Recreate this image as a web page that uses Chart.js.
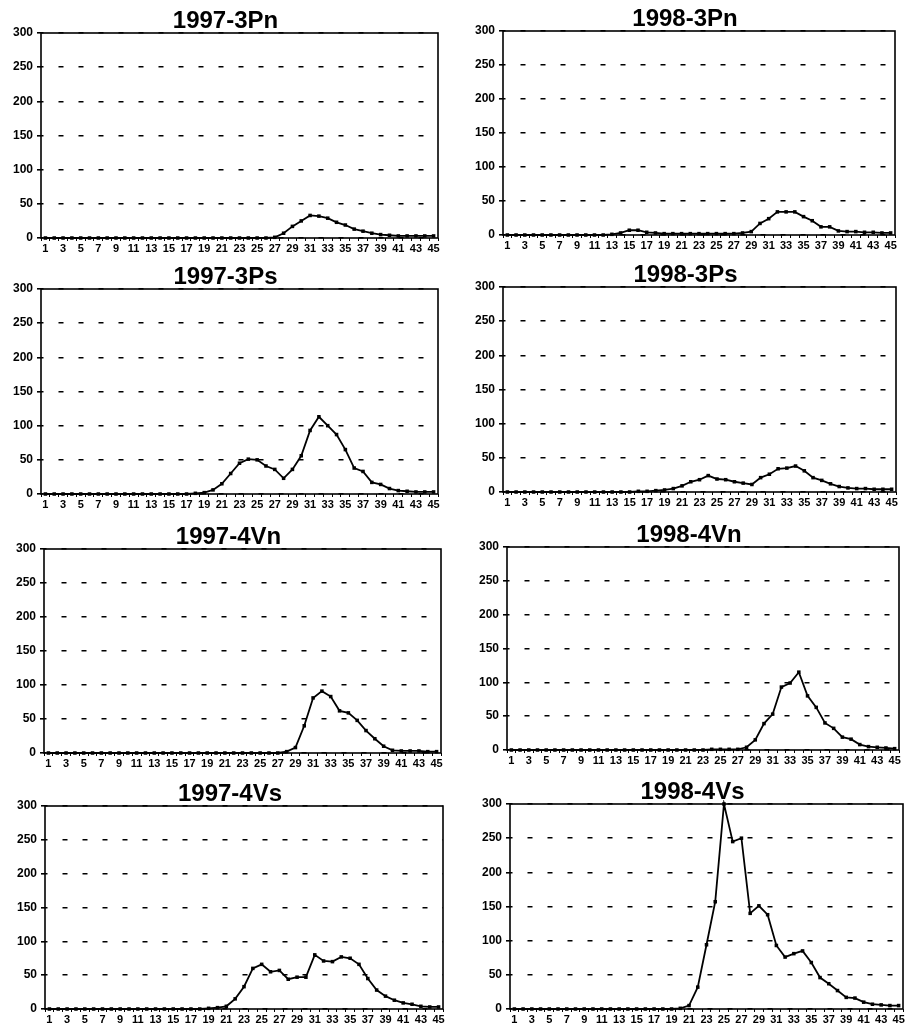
<!DOCTYPE html>
<html>
  <head>
    <title>Weekly counts 1997-1998</title>
    <script src="https://cdn.jsdelivr.net/npm/chart.js"></script>
    <style>
      body {
        margin: 0;
        background: #fff;
      }

      #page {
        position: relative;
        width: 907px;
        height: 1028px;
        overflow: hidden;
      }

      #page canvas {
        position: absolute;
      }
    </style>
  </head>
  <body>
    <div id="page"></div>

    <script>
      // weeks 1..45 (categories)
      const weeks = [
        1, 2, 3, 4, 5, 6, 7, 8, 9, 10, 11, 12, 13, 14, 15, 16, 17, 18, 19, 20, 21, 22, 23,
        24, 25, 26, 27, 28, 29, 30, 31, 32, 33, 34, 35, 36, 37, 38, 39, 40, 41, 42, 43, 44, 45,
      ];

      const yTicks = [0, 50, 100, 150, 200, 250, 300];

      // values, one per week
      const y1997_3Pn = [
        0, 0, 0, 0, 0, 0, 0, 0, 0, 0, 0, 0, 0, 0, 0, 0, 0, 0, 0, 0, 0, 0, 0, 0, 0, 0,
        1, 7, 17, 25, 33, 32, 29, 23, 19, 13, 10, 7, 5, 4, 3, 3, 3, 3, 3,
      ];
      const y1998_3Pn = [
        0, 0, 0, 0, 0, 0, 0, 0, 0, 0, 0, 0, 1, 3, 7, 7, 4, 3, 2, 2, 2, 2, 2, 2, 2, 2,
        2, 3, 5, 17, 24, 34, 34, 34, 27, 21, 12, 12, 6, 5, 5, 4, 4, 3, 3,
      ];
      const y1997_3Ps = [
        0, 0, 0, 0, 0, 0, 0, 0, 0, 0, 0, 0, 0, 0, 0, 0, 0, 1, 2, 6, 15, 30, 45, 51, 50, 41,
        36, 23, 36, 56, 93, 113, 100, 87, 65, 38, 33, 17, 14, 8, 5, 4, 3, 3, 3,
      ];
      const y1998_3Ps = [
        0, 0, 0, 0, 0, 0, 0, 0, 0, 0, 0, 0, 0, 0, 0, 1, 1, 2, 3, 5, 9, 15, 18, 24, 19, 18,
        15, 13, 11, 21, 26, 34, 35, 38, 31, 21, 17, 12, 8, 6, 5, 5, 4, 4, 4,
      ];
      const y1997_4Vn = [
        0, 0, 0, 0, 0, 0, 0, 0, 0, 0, 0, 0, 0, 0, 0, 0, 0, 0, 0, 0, 0, 0, 0, 0, 0, 0,
        0, 2, 8, 40, 81, 91, 83, 62, 59, 48, 33, 21, 10, 4, 3, 3, 3, 2, 2,
      ];
      const y1998_4Vn = [
        0, 0, 0, 0, 0, 0, 0, 0, 0, 0, 0, 0, 0, 0, 0, 0, 0, 0, 0, 0, 0, 0, 0, 1, 1, 1,
        1, 4, 15, 39, 53, 93, 99, 115, 80, 63, 40, 32, 19, 16, 8, 5, 4, 3, 2,
      ];
      const y1997_4Vs = [
        0, 0, 0, 0, 0, 0, 0, 0, 0, 0, 0, 0, 0, 0, 0, 0, 0, 0, 1, 2, 4, 15, 33, 60, 66, 55,
        57, 44, 47, 47, 80, 71, 70, 77, 75, 66, 45, 28, 19, 13, 9, 7, 4, 3, 3,
      ];
      const y1998_4Vs = [
        0, 0, 0, 0, 0, 0, 0, 0, 0, 0, 0, 0, 0, 0, 0, 0, 0, 0, 0, 1, 5, 32, 94, 157, 300, 245,
        250, 140, 151, 138, 93, 76, 81, 85, 68, 46, 37, 27, 17, 16, 10, 7, 6, 5, 5,
      ];

      const FONT = '"Liberation Sans", Arial, sans-serif';

      // plot-area boxes on the page (x, y = top-left of the framed area)
      const panels = [
        { title: '1997-3Pn', values: y1997_3Pn, x: 41, y: 33, w: 397, h: 205 },
        { title: '1998-3Pn', values: y1998_3Pn, x: 503, y: 31, w: 392, h: 204 },
        { title: '1997-3Ps', values: y1997_3Ps, x: 41, y: 289, w: 397, h: 205 },
        { title: '1998-3Ps', values: y1998_3Ps, x: 503, y: 287, w: 393, h: 205 },
        { title: '1997-4Vn', values: y1997_4Vn, x: 44, y: 549, w: 397, h: 204 },
        { title: '1998-4Vn', values: y1998_4Vn, x: 507, y: 547, w: 392, h: 203 },
        { title: '1997-4Vs', values: y1997_4Vs, x: 45, y: 806, w: 398, h: 203 },
        { title: '1998-4Vs', values: y1998_4Vs, x: 510, y: 804, w: 393, h: 205 },
      ];

      // solid box round the plot area
      const framePlugin = {
        id: 'frame',
        beforeDatasetsDraw(chart) {
          const { ctx, chartArea: a } = chart;
          ctx.save();
          ctx.strokeStyle = '#000';
          ctx.lineWidth = 1.6;
          ctx.setLineDash([]);
          ctx.strokeRect(a.left, a.top, a.right - a.left, a.bottom - a.top);
          ctx.restore();
        },
      };

      const page = document.getElementById('page');

      panels.forEach((p) => {
        const cv = document.createElement('canvas');
        const W = 42 + p.w + 10;
        const H = 33 + p.h + 18;
        cv.width = W;
        cv.height = H;
        cv.style.width = W + 'px';
        cv.style.height = H + 'px';
        cv.style.left = p.x - 42 + 'px';
        cv.style.top = p.y - 33 + 'px';
        page.appendChild(cv);

        new Chart(cv, {
          type: 'line',
          data: {
            labels: weeks,
            datasets: [
              {
                data: p.values,
                borderColor: '#000',
                borderWidth: 1.8,
                pointStyle: 'rect',
                pointRadius: 2.5,
                pointBackgroundColor: '#000',
                pointBorderWidth: 0,
                tension: 0,
                clip: 4,
              },
            ],
          },
          options: {
            responsive: false,
            animation: false,
            events: [],
            layout: { padding: { left: 14, right: 10, top: 9, bottom: 0 } },
            plugins: {
              legend: { display: false },
              tooltip: { enabled: false },
              title: {
                display: true,
                text: p.title,
                color: '#000',
                padding: 0,
                font: { family: FONT, size: 24, weight: 'bold', lineHeight: 1 },
              },
            },
            scales: {
              x: {
                offset: true,
                afterFit: (s) => {
                  s.height = 18;
                },
                grid: {
                  drawOnChartArea: false,
                  drawTicks: true,
                  tickLength: 3,
                  color: '#000',
                  offset: true,
                },
                border: { display: false },
                ticks: {
                  autoSkip: false,
                  maxRotation: 0,
                  minRotation: 0,
                  padding: 1,
                  color: '#000',
                  font: { family: FONT, size: 11, weight: 'bold' },
                  callback: function (v, i) {
                    return i % 2 === 0 ? this.getLabelForValue(v) : '';
                  },
                },
              },
              y: {
                min: yTicks[0],
                max: yTicks[yTicks.length - 1],
                afterFit: (s) => {
                  s.width = 28;
                },
                grid: {
                  color: '#000',
                  lineWidth: 1.6,
                  tickLength: 4,
                  tickBorderDash: [],
                },
                border: { display: false, dash: [5, 15], dashOffset: 2.5 },
                ticks: {
                  stepSize: 50,
                  padding: 4,
                  color: '#000',
                  font: { family: FONT, size: 12, weight: 'bold' },
                },
              },
            },
          },
          plugins: [framePlugin],
        });
      });
    </script>
  </body>
</html>
